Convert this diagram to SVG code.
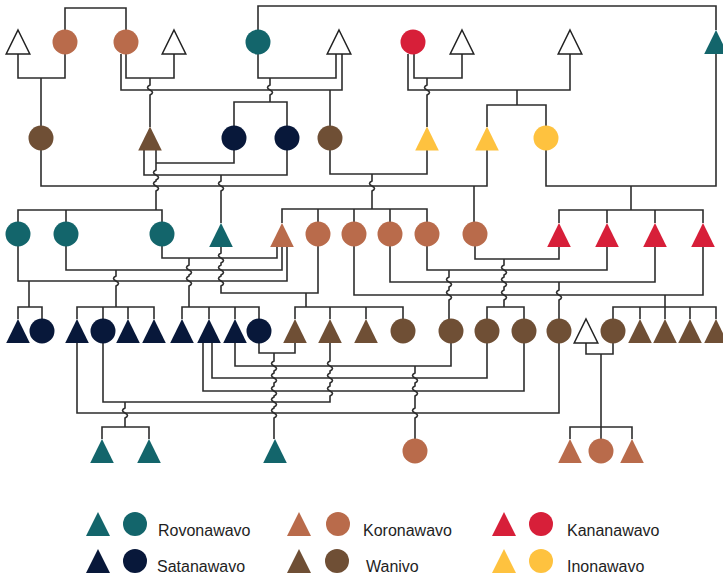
<svg xmlns="http://www.w3.org/2000/svg" width="723" height="578" viewBox="0 0 723 578">
  <defs>
    <style>
      .link { fill: none; stroke: #2d2d2d; stroke-width: 1.6; }
      .teal { fill: #13656b; }
      .copper { fill: #b96b4b; }
      .navy { fill: #08183a; }
      .brown { fill: #6f4f35; }
      .red { fill: #d71f39; }
      .yellow { fill: #fec23f; }
      .open { fill: #ffffff; stroke: #222222; stroke-width: 1.5; }
      .label { font-family: "Liberation Sans", Arial, sans-serif; font-size: 16px; fill: #1e1e1e; }
    </style>
    <path id="tri" d="M0,-12 L11.8,12 L-11.8,12 Z"/>
    <circle id="dot" r="12.5"/>
    <path id="ltri" d="M0,-12 L12,12 L-12,12 Z"/>
    <circle id="ldot" r="12"/>
  </defs>
  <rect width="723" height="578" fill="#ffffff"/>

  <!-- lines of descent and marriage; small S-bends mark crossings -->
  <g id="connectors" class="link">
    <!-- generation 1 -->
    <path d="M65,30 V8 H126 V30"/>
    <path d="M258,30 V6 H716 V30"/>
    <path d="M18,54 V78 H65 V54"/>
    <path d="M41,78 V126"/>
    <path d="M126,54 V78 H174 V54"/>
    <path d="M150,78 V85 q-5,2.5 0,5 q5,2.5 0,5 V127"/>
    <path d="M121,54 V90 H342 V54"/>
    <path d="M330,90 V126"/>
    <path d="M258,54 V78 H336 V54"/>
    <path d="M270,78 V85 q-5,2.5 0,5 q5,2.5 0,5 V102"/>
    <path d="M234,126 V102 H287 V126"/>
    <path d="M414,54 V78 H462 V54"/>
    <path d="M427,78 V85 q-5,2.5 0,5 q5,2.5 0,5 V127"/>
    <path d="M408,54 V90 H570 V54"/>
    <path d="M517,90 V105"/>
    <path d="M487,127 V105 H546 V126"/>

    <!-- generation 2 -->
    <path d="M156,150 V170 q-5,2.5 0,5 q5,2.5 0,5 V181 q-5,2.5 0,5 q5,2.5 0,5 V210"/>
    <path d="M156,163 H234 V150"/>
    <path d="M18,222 V210 H162 V222 M66,210 V222"/>
    <path d="M144,150 V175 H287 V150"/>
    <path d="M221,175 V181 q-5,2.5 0,5 q5,2.5 0,5 V223"/>
    <path d="M41,150 V186 H487 V150"/>
    <path d="M474,186 V222"/>
    <path d="M330,150 V174 H427 V150"/>
    <path d="M372,174 V181 q-5,2.5 0,5 q5,2.5 0,5 V209"/>
    <path d="M282,223 V209 H427 V222 M318,209 V222 M354,209 V222 M390,209 V222"/>
    <path d="M546,150 V186 H716 V54"/>
    <path d="M631,186 V210"/>
    <path d="M559,223 V210 H703 V223 M607,210 V223 M655,210 V223"/>

    <!-- generation 3 -->
    <path d="M162,246 V258 H277 V247"/>
    <path d="M189,258 V265 q-5,2.5 0,5 q5,2.5 0,5 V276 q-5,2.5 0,5 q5,2.5 0,5 V307"/>
    <path d="M182,319 V307 H259 V319 M209,307 V319 M235,307 V319"/>
    <path d="M66,246 V270 H282 V247"/>
    <path d="M116,270 V276 q-5,2.5 0,5 q5,2.5 0,5 V307"/>
    <path d="M77,319 V307 H154 V319 M103,307 V319 M128,307 V319"/>
    <path d="M18,246 V281 H287 V247"/>
    <path d="M29,281 V307"/>
    <path d="M18,319 V307 H42 V319"/>
    <path d="M221,247 V253 q-5,2.5 0,5 q5,2.5 0,5 V265 q-5,2.5 0,5 q5,2.5 0,5 V276 q-5,2.5 0,5 q5,2.5 0,5 V293 H318 V246"/>
    <path d="M306,293 V307"/>
    <path d="M295,319 V307 H403 V319 M330,307 V319 M366,307 V319"/>
    <path d="M354,246 V295 H703 V247"/>
    <path d="M665,295 V319"/>
    <path d="M613,319 V307 H716 V319 M640,307 V319 M690,307 V319"/>
    <path d="M390,246 V282 H655 V247"/>
    <path d="M559,282 V290 q-5,2.5 0,5 q5,2.5 0,5 V319"/>
    <path d="M427,246 V270 H607 V247"/>
    <path d="M449,270 V277 q-5,2.5 0,5 q5,2.5 0,5 V290 q-5,2.5 0,5 q5,2.5 0,5 V319"/>
    <path d="M475,246 V259 H559 V247"/>
    <path d="M504,259 V265 q-5,2.5 0,5 q5,2.5 0,5 V277 q-5,2.5 0,5 q5,2.5 0,5 V290 q-5,2.5 0,5 q5,2.5 0,5 V307"/>
    <path d="M487,319 V307 H524 V319"/>

    <!-- generation 4 -->
    <path d="M259,343 V353 H295 V343"/>
    <path d="M274,353 V361 q-5,2.5 0,5 q5,2.5 0,5 V373 q-5,2.5 0,5 q5,2.5 0,5 V386 q-5,2.5 0,5 q5,2.5 0,5 V397 q-5,2.5 0,5 q5,2.5 0,5 V408 q-5,2.5 0,5 q5,2.5 0,5 V439"/>
    <path d="M235,343 V366 H451 V343"/>
    <path d="M415,366 V373 q-5,2.5 0,5 q5,2.5 0,5 V386 q-5,2.5 0,5 q5,2.5 0,5 V408 q-5,2.5 0,5 q5,2.5 0,5 V439"/>
    <path d="M212,343 V378 H487 V343"/>
    <path d="M203,343 V391 H524 V343"/>
    <path d="M330,343 V361 q-5,2.5 0,5 q5,2.5 0,5 V373 q-5,2.5 0,5 q5,2.5 0,5 V386 q-5,2.5 0,5 q5,2.5 0,5 V402 H103 V343"/>
    <path d="M125,402 V408 q-5,2.5 0,5 q5,2.5 0,5 V427"/>
    <path d="M102,439 V427 H149 V439"/>
    <path d="M77,343 V413 H559 V343"/>
    <path d="M586,343 V354 H613 V343"/>
    <path d="M601,354 V439"/>
    <path d="M570,439 V427 H632 V439"/>
  </g>

  <!-- generation 1 -->
  <g id="g1-m1"><use href="#tri" x="18" y="42" class="open"/></g>
  <g id="g1-f1"><use href="#dot" x="65" y="42" class="copper"/></g>
  <g id="g1-f2"><use href="#dot" x="126" y="42" class="copper"/></g>
  <g id="g1-m2"><use href="#tri" x="174" y="42" class="open"/></g>
  <g id="g1-f3"><use href="#dot" x="258" y="42" class="teal"/></g>
  <g id="g1-m3"><use href="#tri" x="339" y="42" class="open"/></g>
  <g id="g1-f4"><use href="#dot" x="413" y="42" class="red"/></g>
  <g id="g1-m4"><use href="#tri" x="462" y="42" class="open"/></g>
  <g id="g1-m5"><use href="#tri" x="570" y="42" class="open"/></g>
  <g id="g1-m6"><use href="#tri" x="716" y="42" class="teal"/></g>

  <!-- generation 2 -->
  <g id="g2-f1"><use href="#dot" x="41" y="138" class="brown"/></g>
  <g id="g2-m1"><use href="#tri" x="150" y="138.5" class="brown"/></g>
  <g id="g2-f2"><use href="#dot" x="234" y="138" class="navy"/></g>
  <g id="g2-f3"><use href="#dot" x="287" y="138" class="navy"/></g>
  <g id="g2-f4"><use href="#dot" x="330" y="138" class="brown"/></g>
  <g id="g2-m2"><use href="#tri" x="427" y="138.5" class="yellow"/></g>
  <g id="g2-m3"><use href="#tri" x="487" y="138.5" class="yellow"/></g>
  <g id="g2-f5"><use href="#dot" x="546" y="138" class="yellow"/></g>

  <!-- generation 3 -->
  <g id="g3-f1"><use href="#dot" x="18" y="234" class="teal"/></g>
  <g id="g3-f2"><use href="#dot" x="66" y="234" class="teal"/></g>
  <g id="g3-f3"><use href="#dot" x="162" y="234" class="teal"/></g>
  <g id="g3-m1"><use href="#tri" x="221" y="235" class="teal"/></g>
  <g id="g3-m2"><use href="#tri" x="282" y="235" class="copper"/></g>
  <g id="g3-f4"><use href="#dot" x="318" y="234" class="copper"/></g>
  <g id="g3-f5"><use href="#dot" x="354" y="234" class="copper"/></g>
  <g id="g3-f6"><use href="#dot" x="390" y="234" class="copper"/></g>
  <g id="g3-f7"><use href="#dot" x="427" y="234" class="copper"/></g>
  <g id="g3-f8"><use href="#dot" x="475" y="234" class="copper"/></g>
  <g id="g3-m3"><use href="#tri" x="559" y="235" class="red"/></g>
  <g id="g3-m4"><use href="#tri" x="607" y="235" class="red"/></g>
  <g id="g3-m5"><use href="#tri" x="655" y="235" class="red"/></g>
  <g id="g3-m6"><use href="#tri" x="703" y="235" class="red"/></g>

  <!-- generation 4 -->
  <g id="g4-m1"><use href="#tri" x="18" y="331" class="navy"/></g>
  <g id="g4-f1"><use href="#dot" x="42" y="331" class="navy"/></g>
  <g id="g4-m2"><use href="#tri" x="77" y="331" class="navy"/></g>
  <g id="g4-f2"><use href="#dot" x="103" y="331" class="navy"/></g>
  <g id="g4-m3"><use href="#tri" x="128" y="331" class="navy"/></g>
  <g id="g4-m4"><use href="#tri" x="154" y="331" class="navy"/></g>
  <g id="g4-m5"><use href="#tri" x="182" y="331" class="navy"/></g>
  <g id="g4-m6"><use href="#tri" x="209" y="331" class="navy"/></g>
  <g id="g4-m7"><use href="#tri" x="235" y="331" class="navy"/></g>
  <g id="g4-f3"><use href="#dot" x="259" y="331" class="navy"/></g>
  <g id="g4-m8"><use href="#tri" x="295" y="331" class="brown"/></g>
  <g id="g4-m9"><use href="#tri" x="330" y="331" class="brown"/></g>
  <g id="g4-m10"><use href="#tri" x="366" y="331" class="brown"/></g>
  <g id="g4-f4"><use href="#dot" x="403" y="331" class="brown"/></g>
  <g id="g4-f5"><use href="#dot" x="451" y="331" class="brown"/></g>
  <g id="g4-f6"><use href="#dot" x="487" y="331" class="brown"/></g>
  <g id="g4-f7"><use href="#dot" x="524" y="331" class="brown"/></g>
  <g id="g4-f8"><use href="#dot" x="559" y="331" class="brown"/></g>
  <g id="g4-m11"><use href="#tri" x="586" y="331" class="open"/></g>
  <g id="g4-f9"><use href="#dot" x="613" y="331" class="brown"/></g>
  <g id="g4-m12"><use href="#tri" x="640" y="331" class="brown"/></g>
  <g id="g4-m13"><use href="#tri" x="665" y="331" class="brown"/></g>
  <g id="g4-m14"><use href="#tri" x="690" y="331" class="brown"/></g>
  <g id="g4-m15"><use href="#tri" x="716" y="331" class="brown"/></g>

  <!-- generation 5 -->
  <g id="g5-m1"><use href="#tri" x="102" y="451" class="teal"/></g>
  <g id="g5-m2"><use href="#tri" x="149" y="451" class="teal"/></g>
  <g id="g5-m3"><use href="#tri" x="275" y="451" class="teal"/></g>
  <g id="g5-f1"><use href="#dot" x="415" y="451" class="copper"/></g>
  <g id="g5-m4"><use href="#tri" x="570" y="451" class="copper"/></g>
  <g id="g5-f2"><use href="#dot" x="601" y="451" class="copper"/></g>
  <g id="g5-m5"><use href="#tri" x="632" y="451" class="copper"/></g>

  <!-- key -->
  <g id="legend">
    <g id="key-rovonawavo">
      <use href="#ltri" x="98" y="524" class="teal"/>
      <use href="#ldot" x="135" y="524" class="teal"/>
      <text class="label" x="158" y="536">Rovonawavo</text>
    </g>
    <g id="key-satanawavo">
      <use href="#ltri" x="98" y="561" class="navy"/>
      <use href="#ldot" x="135" y="561" class="navy"/>
      <text class="label" x="157" y="572">Satanawavo</text>
    </g>
    <g id="key-koronawavo">
      <use href="#ltri" x="299" y="524" class="copper"/>
      <use href="#ldot" x="338" y="524" class="copper"/>
      <text class="label" x="363" y="536">Koronawavo</text>
    </g>
    <g id="key-wanivo">
      <use href="#ltri" x="299" y="561" class="brown"/>
      <use href="#ldot" x="337" y="561" class="brown"/>
      <text class="label" x="366" y="572">Wanivo</text>
    </g>
    <g id="key-kananawavo">
      <use href="#ltri" x="504" y="524" class="red"/>
      <use href="#ldot" x="541" y="524" class="red"/>
      <text class="label" x="567" y="536">Kananawavo</text>
    </g>
    <g id="key-inonawavo">
      <use href="#ltri" x="504" y="561" class="yellow"/>
      <use href="#ldot" x="541" y="561" class="yellow"/>
      <text class="label" x="567" y="572">Inonawavo</text>
    </g>
  </g>
</svg>
